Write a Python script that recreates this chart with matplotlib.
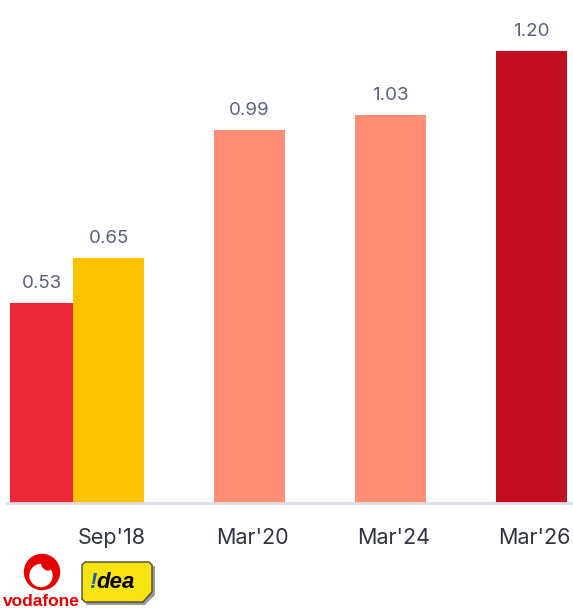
import matplotlib.pyplot as plt
from matplotlib.patches import Circle, Ellipse, Polygon

plt.rcParams['font.family'] = ['Inter', 'DejaVu Sans']

# data
periods = ["Sep'18", "Mar'20", "Mar'24", "Mar'26"]
values = [0.65, 0.99, 1.03, 1.20]
bar_colors = ['#fdc300', '#ff8c73', '#ff8c73', '#c20e1f']
vodafone_value = 0.53
vodafone_color = '#ee2737'

fig = plt.figure(figsize=(5.73, 6.13), dpi=100)
ax = fig.add_axes([7 / 573, 110 / 613, 566 / 573, 503 / 613])

x = list(range(len(periods)))
bars = ax.bar(x, values, width=0.504, color=bar_colors, zorder=2)
vbar = ax.bar(-0.475, vodafone_value, width=0.447, color=vodafone_color, zorder=2)

label_color = '#5b5f7e'
for rect, v in zip(list(vbar) + list(bars), [vodafone_value] + values):
    ax.annotate(f'{v:.2f}', (rect.get_x() + rect.get_width() / 2, v),
                xytext=(0, 8), textcoords='offset points',
                ha='center', va='bottom', fontsize=13.5, color=label_color)

ax.set_xlim(-0.72, 3.294)
ax.set_ylim(0, 1.335)
ax.set_xticks([i + 0.02 for i in x])
ax.set_xticklabels(periods, fontsize=15.5, color='#2f3241')
ax.tick_params(axis='x', length=0, pad=18)
ax.set_yticks([])
for s in ['top', 'right', 'left']:
    ax.spines[s].set_visible(False)
ax.spines['bottom'].set_color('#dcdce6')
ax.spines['bottom'].set_linewidth(2)

# logos (drawn in pixel-like figure coordinates)
lg = fig.add_axes([0, 0, 1, 1], zorder=5)
lg.set_xlim(0, 573)
lg.set_ylim(613, 0)
lg.axis('off')

# vodafone mark
red = '#e60000'
lg.add_patch(Circle((42, 572), 17.5, color=red))
lg.add_patch(Circle((41, 575.5), 11, color='white'))
lg.add_patch(Ellipse((46.5, 565), 8, 11, angle=-40, color=red))
lg.text(41, 602, 'vodafone', ha='center', va='center', fontsize=12.5,
        fontweight='bold', color=red, family=['Liberation Sans', 'DejaVu Sans'])

# idea mark
lg.add_patch(Polygon([(86, 605), (145, 605), (155, 595), (155, 566), (86, 566)],
                     closed=True, facecolor='#9a9a9a', edgecolor='none'))
lg.add_patch(Polygon([(85, 562), (149, 562), (152, 565), (152, 592), (143, 602),
                      (85, 602), (82, 599), (82, 565)],
                     closed=True, facecolor='#f7e30f', edgecolor='#4a4a3a', linewidth=1))
lg.text(89, 583, '!', ha='left', va='center', fontsize=16, fontweight='bold',
        style='italic', color='#1f5fb0', family=['Liberation Sans', 'DejaVu Sans'])
lg.text(96, 583, 'dea', ha='left', va='center', fontsize=16, fontweight='bold',
        style='italic', color='black', family=['Liberation Sans', 'DejaVu Sans'])

fig.savefig('out.png', dpi=100)
